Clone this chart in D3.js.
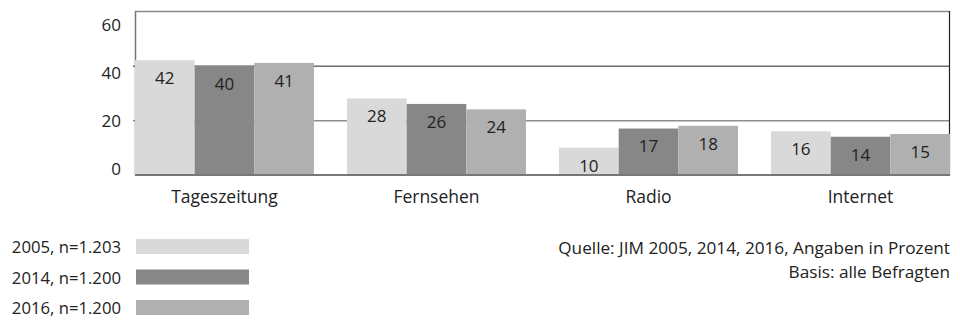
<!DOCTYPE html>
<html>
<head>
<meta charset="utf-8">
<script src="https://cdn.jsdelivr.net/npm/d3@7"></script>
<style>
  body { margin: 0; background: #fff; }
  text { font-family: "Open Sans", "Noto Sans", sans-serif; fill: #222; }
</style>
</head>
<body>
<script>
var categories = ["Tageszeitung", "Fernsehen", "Radio", "Internet"];
var seriesNames = ["2005, n=1.203", "2014, n=1.200", "2016, n=1.200"];
var values2005 = [42, 28, 10, 16];
var values2014 = [40, 26, 17, 14];
var values2016 = [41, 24, 18, 15];
var yTicks = [0, 20, 40, 60];
var colors = ["#d9d9d9", "#878787", "#b0b0b0"];

var width = 960, height = 320;
var plotLeft = 135, plotRight = 950, plotTop = 11, plotBottom = 175;

var series = [values2005, values2014, values2016];

var svg = d3.select("body").append("svg")
    .attr("width", width)
    .attr("height", height);

// scales
var x0 = d3.scaleBand().domain(categories).range([plotLeft, plotRight]).paddingInner(0.156).paddingOuter(0);
var x1 = d3.scaleBand().domain([0, 1, 2]).range([0, x0.bandwidth()]);
var y = d3.scaleLinear().domain([0, 60]).range([plotBottom, plotTop]);
// the tick labels in the original sit on their own, tighter spacing
var yLabel = d3.scaleLinear().domain([0, 60]).range([169, 25]);

// gridlines (behind bars)
svg.append("g")
    .selectAll("line")
    .data([20, 40])
    .enter().append("line")
    .attr("x1", plotLeft - 2).attr("x2", plotRight)
    .attr("y1", function (d) { return y(d) + 0.5; })
    .attr("y2", function (d) { return y(d) + 0.5; })
    .attr("stroke", function (d) { return d == 40 ? "#222" : "#555"; })
    .attr("stroke-width", 1);

// frame
svg.append("line").attr("x1", plotLeft).attr("x2", plotRight).attr("y1", y(60) + 0.5).attr("y2", y(60) + 0.5)
    .attr("stroke", "#888").attr("stroke-width", 1.5);
svg.append("line").attr("x1", plotLeft + 0.5).attr("x2", plotLeft + 0.5).attr("y1", y(60)).attr("y2", plotBottom)
    .attr("stroke", "#777").attr("stroke-width", 1.5);
svg.append("line").attr("x1", plotRight - 0.5).attr("x2", plotRight - 0.5).attr("y1", y(60)).attr("y2", plotBottom)
    .attr("stroke", "#222").attr("stroke-width", 1.2);

// bars
var groups = svg.selectAll(".grp")
    .data(categories)
    .enter().append("g")
    .attr("class", "grp")
    .attr("transform", function (d) { return "translate(" + x0(d) + ",0)"; });

groups.selectAll("rect")
    .data(function (d, i) { return series.map(function (s, k) { return {k: k, v: s[i]}; }); })
    .enter().append("rect")
    .attr("x", function (d) { return x1(d.k); })
    .attr("width", x1.bandwidth())
    .attr("y", function (d) { return y(d.v); })
    .attr("height", function (d) { return plotBottom - y(d.v); })
    .attr("fill", function (d) { return colors[d.k]; });

groups.selectAll("text")
    .data(function (d, i) { return series.map(function (s, k) { return {k: k, v: s[i]}; }); })
    .enter().append("text")
    .attr("x", function (d) { return x1(d.k) + x1.bandwidth() / 2; })
    .attr("y", function (d) { return y(d.v) + 18; })
    .attr("dy", "0.35em")
    .attr("text-anchor", "middle")
    .style("font-size", "17px")
    .text(function (d) { return d.v; });

// bottom axis line
svg.append("line").attr("x1", plotLeft).attr("x2", plotRight).attr("y1", plotBottom).attr("y2", plotBottom)
    .attr("stroke", "#777").attr("stroke-width", 2);

// y-axis labels
svg.append("g")
    .selectAll("text")
    .data(yTicks)
    .enter().append("text")
    .attr("x", 121)
    .attr("y", function (d) { return yLabel(d); })
    .attr("dy", "0.35em")
    .attr("text-anchor", "end")
    .style("font-size", "17px")
    .text(function (d) { return d; });

// x-axis labels
svg.append("g")
    .selectAll("text")
    .data(categories)
    .enter().append("text")
    .attr("x", function (d) { return x0(d) + x0.bandwidth() / 2; })
    .attr("y", 197)
    .attr("dy", "0.35em")
    .attr("text-anchor", "middle")
    .style("font-size", "17.5px")
    .text(function (d) { return d; });

// legend
var legend = svg.selectAll(".legend")
    .data(seriesNames)
    .enter().append("g")
    .attr("class", "legend")
    .attr("transform", function (d, i) { return "translate(0," + (246.5 + i * 30.5) + ")"; });

legend.append("rect")
    .attr("x", 136)
    .attr("y", -7.5)
    .attr("width", 113)
    .attr("height", 15)
    .attr("fill", function (d, i) { return colors[i]; });

legend.append("text")
    .attr("x", 121)
    .attr("y", 1)
    .attr("dy", "0.35em")
    .attr("text-anchor", "end")
    .style("font-size", "16.7px")
    .text(function (d) { return d; });

// source note
svg.append("text")
    .attr("x", plotRight).attr("y", 248).attr("dy", "0.35em")
    .attr("text-anchor", "end")
    .style("font-size", "17.2px")
    .text("Quelle: JIM 2005, 2014, 2016, Angaben in Prozent");
svg.append("text")
    .attr("x", plotRight).attr("y", 272).attr("dy", "0.35em")
    .attr("text-anchor", "end")
    .style("font-size", "17.2px")
    .text("Basis: alle Befragten");
</script>
</body>
</html>
